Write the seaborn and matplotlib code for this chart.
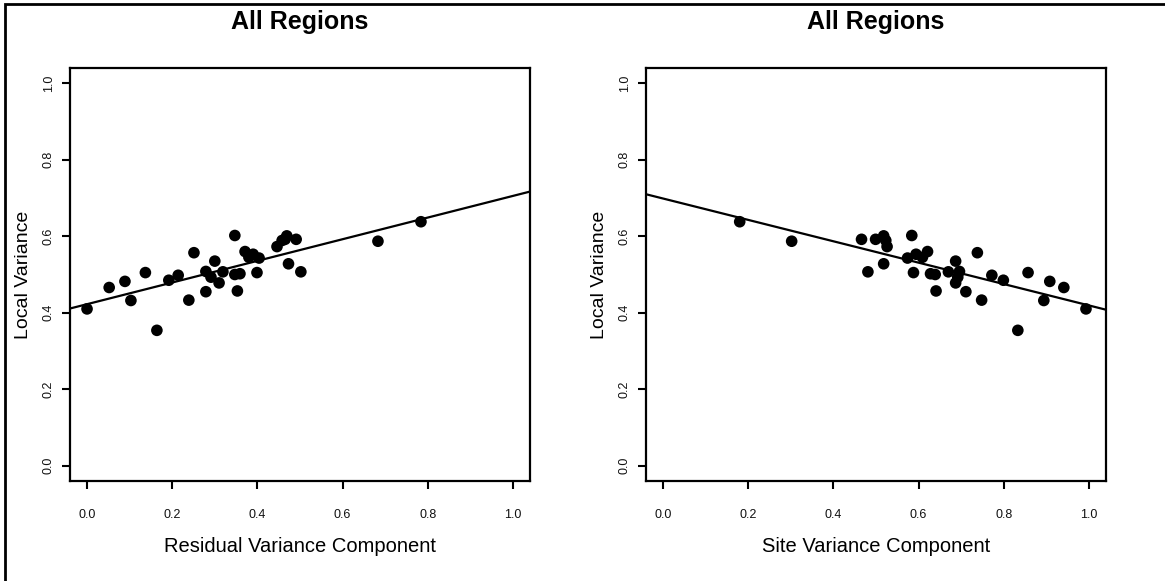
import numpy as np
import matplotlib
matplotlib.use("Agg")
import matplotlib.pyplot as plt
import seaborn as sns
from matplotlib.patches import Rectangle

# Variance components per site group
local_var = [0.410, 0.466, 0.482, 0.432, 0.505, 0.354, 0.485, 0.498, 0.433, 0.557,
             0.508, 0.455, 0.493, 0.535, 0.478, 0.507, 0.500, 0.502, 0.457, 0.505,
             0.528, 0.507, 0.602, 0.560, 0.545, 0.553, 0.543, 0.573, 0.589, 0.592,
             0.601, 0.592, 0.587, 0.638]
residual_var = [0.000, 0.052, 0.089, 0.103, 0.137, 0.164, 0.192, 0.214, 0.239, 0.251,
                0.279, 0.279, 0.291, 0.300, 0.310, 0.319, 0.347, 0.359, 0.353, 0.399,
                0.473, 0.502, 0.347, 0.371, 0.380, 0.390, 0.404, 0.446, 0.458, 0.465,
                0.469, 0.491, 0.683, 0.784]
site_var = [0.993, 0.941, 0.908, 0.894, 0.857, 0.833, 0.799, 0.772, 0.748, 0.738,
            0.696, 0.711, 0.692, 0.687, 0.687, 0.670, 0.639, 0.628, 0.641, 0.588,
            0.518, 0.481, 0.584, 0.621, 0.609, 0.594, 0.574, 0.526, 0.523, 0.499,
            0.518, 0.466, 0.302, 0.180]

panels = [("Residual Variance Component", residual_var),
          ("Site Variance Component", site_var)]
ticks = [0.0, 0.2, 0.4, 0.6, 0.8, 1.0]

sns.set_style("ticks")
plt.rcParams["font.family"] = ["Liberation Sans", "DejaVu Sans"]
plt.rcParams["text.color"] = "black"

fig = plt.figure(figsize=(11.65, 5.81), dpi=100)
W, H = 1165, 581

for i, (xlab, xs) in enumerate(panels):
    x0 = [70, 646][i]
    ax = fig.add_axes([x0 / W, 1 - 481 / H, 460 / W, 413 / H])
    ax.set_xlim(-0.04, 1.04)
    ax.set_ylim(-0.04, 1.04)
    sns.regplot(x=xs, y=local_var, ax=ax, ci=None, truncate=False,
                scatter_kws=dict(s=70, color="black", edgecolor="none", alpha=1),
                line_kws=dict(color="black", lw=1.6))
    ax.set_xlim(-0.04, 1.04)
    ax.set_ylim(-0.04, 1.04)
    ax.set_xticks(ticks)
    ax.set_yticks(ticks)
    ax.set_xticklabels([f"{t:.1f}" for t in ticks])
    ax.set_yticklabels([f"{t:.1f}" for t in ticks], rotation=90, va="center")
    ax.tick_params(axis="both", direction="out", length=6, width=1.5,
                   labelsize=9, color="black", labelcolor="#111111")
    ax.tick_params(axis="x", pad=14)
    ax.tick_params(axis="y", pad=5)
    for s in ax.spines.values():
        s.set_visible(True)
        s.set_linewidth(1.6)
        s.set_color("black")
    ax.set_xlabel(xlab, fontsize=14.5, labelpad=12, color="black")
    ax.set_ylabel("Local Variance", fontsize=14, labelpad=8, color="black")
    ax.set_title("All Regions", fontsize=18, fontweight="bold", pad=28,
                 color="black")

# outer frame (partly cropped, as in the source document)
fig.patches.append(Rectangle((5 / W, -0.2), 1.5, 1.2 - 4 / H,
                             transform=fig.transFigure, fill=False,
                             edgecolor="black", lw=2, clip_on=False))

fig.savefig("out.png", dpi=100)
